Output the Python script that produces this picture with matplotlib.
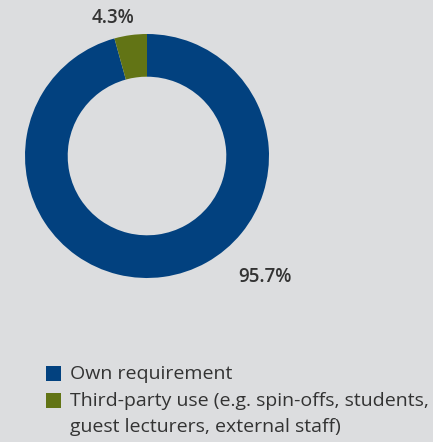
import matplotlib.pyplot as plt
from matplotlib.patches import Rectangle

# data
categories = ["Own requirement",
              "Third-party use (e.g. spin-offs, students,\nguest lecturers, external staff)"]
shares = [95.7, 4.3]
pct_labels = ["95.7%", "4.3%"]
colors = ["#02417F", "#627415"]

bg = "#DCDDDF"
txt = "#333333"
plt.rcParams['font.family'] = ['Open Sans', 'DejaVu Sans']

W, H = 433, 442
fig = plt.figure(figsize=(W / 100, H / 100), dpi=100, facecolor=bg)
ax = fig.add_axes([0, 0, 1, 1])
ax.set_facecolor(bg)

cx, cy, r = 147, H - 156, 122
ax.pie(shares, colors=colors, startangle=90, counterclock=False,
       radius=r, center=(cx, cy),
       wedgeprops=dict(width=r * 0.35, linewidth=0))
ax.set_xlim(0, W)
ax.set_ylim(0, H)
ax.set_aspect('equal')
ax.axis('off')

# percent labels
ax.text(265, H - 277, pct_labels[0], ha='center', va='center',
        fontsize=13.5, fontweight='semibold', color=txt)
ax.text(113, H - 18, pct_labels[1], ha='center', va='center',
        fontsize=13.5, fontweight='semibold', color=txt)

# legend drawn by hand
rows = [H - 373, H - 400]
for lab, col, y in zip(categories, colors, rows):
    ax.add_patch(Rectangle((46, y - 7.5), 15, 15, color=col, lw=0))
    ax.text(70, y + 8, lab, ha='left', va='top', fontsize=14,
            color=txt, linespacing=1.6)

fig.savefig("out.png", dpi=100, facecolor=bg)
